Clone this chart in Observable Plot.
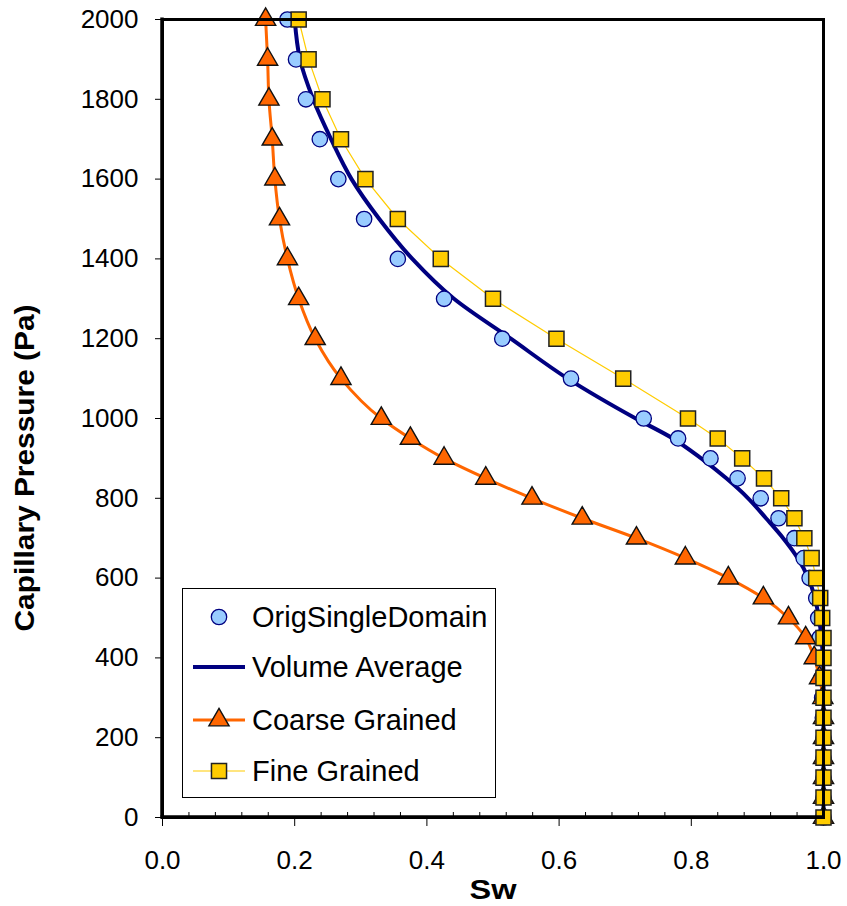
<!DOCTYPE html>
<html>
<head>
<meta charset="utf-8">
<script src="https://cdn.jsdelivr.net/npm/d3@7"></script>
<script src="https://cdn.jsdelivr.net/npm/@observablehq/plot@0.6"></script>
<style>
  html, body { margin: 0; padding: 0; background: #fff; }
  #chart { width: 847px; height: 906px; }
</style>
</head>
<body>
<div id="chart"></div>
<script>
// Capillary pressure levels (Pa)
const pressure = [2000, 1900, 1800, 1700, 1600, 1500, 1400, 1300, 1200, 1100, 1000,
  950, 900, 850, 800, 750, 700, 650, 600, 550, 500, 450, 400, 350, 300, 250, 200, 150, 100, 50, 0];

// Water saturation per series
const swOrigSingleDomain = [0.189, 0.202, 0.217, 0.238, 0.266, 0.305, 0.356, 0.426, 0.514, 0.618, 0.728,
  0.780, 0.829, 0.870, 0.905, 0.932, 0.956, 0.970, 0.979, 0.989, 0.992, 0.994, 0.996, 0.997, 0.998, 0.999, 1.0, 1.0, 1.0, 1.0, 1.0];
const swVolumeAverage = [0.200, 0.208, 0.228, 0.255, 0.286, 0.328, 0.378, 0.441, 0.527, 0.613, 0.716,
  0.772, 0.815, 0.853, 0.886, 0.913, 0.939, 0.961, 0.977, 0.987, 0.993, 0.997, 0.999, 1.0, 1.0, 1.0, 1.0, 1.0, 1.0, 1.0, 1.0];
const swCoarseGrained = [0.156, 0.159, 0.161, 0.166, 0.170, 0.177, 0.189, 0.206, 0.231, 0.270, 0.331,
  0.375, 0.426, 0.489, 0.559, 0.635, 0.717, 0.791, 0.856, 0.909, 0.947, 0.973, 0.986, 0.994, 0.999, 1.0, 1.0, 1.0, 1.0, 1.0, 1.0];
const swFineGrained = [0.206, 0.221, 0.242, 0.270, 0.307, 0.356, 0.421, 0.500, 0.596, 0.697, 0.795,
  0.840, 0.877, 0.910, 0.936, 0.956, 0.971, 0.982, 0.989, 0.995, 0.998, 1.0, 1.0, 1.0, 1.0, 1.0, 1.0, 1.0, 1.0, 1.0, 1.0];

// Tick values
const xTicks = [0.0, 0.2, 0.4, 0.6, 0.8, 1.0];
const xMinorTicks = [0.04, 0.08, 0.12, 0.16, 0.24, 0.28, 0.32, 0.36, 0.44, 0.48, 0.52, 0.56, 0.64, 0.68, 0.72, 0.76, 0.84, 0.88, 0.92, 0.96];
const yTicks = [0, 200, 400, 600, 800, 1000, 1200, 1400, 1600, 1800, 2000];

const seriesNames = ["OrigSingleDomain", "Volume Average", "Coarse Grained", "Fine Grained"];
const colors = {
  origFill: "#99CCFF", origStroke: "#000080",
  vol: "#000080",
  coarse: "#FF6600",
  fine: "#FFCC00"
};

const rCircle = 7.7, rTri = 7.5, rSq = 8.5;

const toRows = sw => pressure.map((p, i) => ({p, sw: sw[i]}));
const orig = toRows(swOrigSingleDomain);
const vol = toRows(swVolumeAverage).reverse();
const coarse = toRows(swCoarseGrained);
const coarseLine = toRows(swCoarseGrained).reverse();
const fine = toRows(swFineGrained);

const W = 847, H = 906;
const mL = 162, mR = 24, mT = 19, mB = 89;
const plotH = H - mT - mB;

const svg = Plot.plot({
  width: W,
  height: H,
  marginLeft: mL,
  marginRight: mR,
  marginTop: mT,
  marginBottom: mB,
  style: {fontFamily: "'Liberation Sans', Arial, sans-serif", fontSize: "26px", color: "black", background: "white"},
  x: {domain: [0, 1], label: null},
  y: {domain: [0, 2000], label: null},
  marks: [
    Plot.axisX({ticks: xTicks, tickSize: 9, tickPadding: 24, tickFormat: d3.format(".1f"), label: null}),
    Plot.tickX(xMinorTicks, {x: d => d, insetTop: plotH - 5, stroke: "black"}),
    Plot.axisY({ticks: yTicks, tickSize: 7, tickPadding: 17, tickFormat: d => String(d), label: null}),
    Plot.line(vol, {x: "sw", y: "p", stroke: colors.vol, strokeWidth: 4, curve: "monotone-y"}),
    Plot.dot(orig, {x: "sw", y: "p", r: rCircle, fill: colors.origFill, stroke: colors.origStroke, strokeWidth: 1.3}),
    Plot.line(coarseLine, {x: "sw", y: "p", stroke: colors.coarse, strokeWidth: 3, curve: "monotone-y"}),
    Plot.dot(coarse, {x: "sw", y: "p", symbol: "triangle", r: rTri, fill: colors.coarse, stroke: "#111", strokeWidth: 1.4}),
    Plot.line(fine, {x: "sw", y: "p", stroke: colors.fine, strokeWidth: 1.2}),
    Plot.dot(fine, {x: "sw", y: "p", symbol: "square", r: rSq, fill: colors.fine, stroke: "#222", strokeWidth: 1.5}),
    Plot.frame({stroke: "black", strokeWidth: 3})
  ]
});

document.getElementById("chart").appendChild(svg);

const s = d3.select(svg);
const font = "'Liberation Sans', Arial, sans-serif";

// Heavier left/bottom axis lines (layout styling)
s.append("line").attr("x1", mL).attr("x2", mL).attr("y1", mT - 1.5).attr("y2", H - mB + 1.5)
  .attr("stroke", "black").attr("stroke-width", 3.5);
s.append("line").attr("x1", mL - 1.5).attr("x2", W - mR + 1.5).attr("y1", H - mB).attr("y2", H - mB)
  .attr("stroke", "black").attr("stroke-width", 3.5);

// Axis titles
s.append("text")
  .attr("transform", "translate(34,468) rotate(-90)")
  .attr("text-anchor", "middle")
  .attr("font-family", font)
  .attr("font-weight", "bold")
  .attr("font-size", 28)
  .attr("textLength", 327)
  .attr("lengthAdjust", "spacingAndGlyphs")
  .attr("fill", "black")
  .text("Capillary Pressure (Pa)");

s.append("text")
  .attr("x", 493).attr("y", 899)
  .attr("text-anchor", "middle")
  .attr("font-family", font)
  .attr("font-weight", "bold")
  .attr("font-size", 28)
  .attr("textLength", 47)
  .attr("lengthAdjust", "spacingAndGlyphs")
  .attr("fill", "black")
  .text("Sw");

// Legend
const lg = s.append("g");
lg.append("rect").attr("x", 182.5).attr("y", 588.5).attr("width", 313).attr("height", 209)
  .attr("fill", "white").attr("stroke", "black").attr("stroke-width", 1);
const rowY = [617, 667, 720, 771];
const textX = 252;
rowY.forEach((y, i) => {
  lg.append("text").attr("x", textX).attr("y", y + 9.5)
    .attr("text-anchor", "start")
    .attr("font-family", font).attr("font-size", 29).attr("fill", "black")
    .text(seriesNames[i]);
});
// Orig: circle
lg.append("circle").attr("cx", 219).attr("cy", rowY[0]).attr("r", rCircle)
  .attr("fill", colors.origFill).attr("stroke", colors.origStroke).attr("stroke-width", 1.3);
// Volume: line
lg.append("line").attr("x1", 193).attr("x2", 245).attr("y1", rowY[1]).attr("y2", rowY[1])
  .attr("stroke", colors.vol).attr("stroke-width", 4);
// Coarse: line + triangle
lg.append("line").attr("x1", 193).attr("x2", 245).attr("y1", rowY[2]).attr("y2", rowY[2])
  .attr("stroke", colors.coarse).attr("stroke-width", 3);
lg.append("path").attr("transform", `translate(219,${rowY[2]})`)
  .attr("d", d3.symbol(d3.symbolTriangle, Math.PI * rTri * rTri)())
  .attr("fill", colors.coarse).attr("stroke", "#111").attr("stroke-width", 1.4);
// Fine: line + square
lg.append("line").attr("x1", 193).attr("x2", 245).attr("y1", rowY[3]).attr("y2", rowY[3])
  .attr("stroke", colors.fine).attr("stroke-width", 1.2);
lg.append("path").attr("transform", `translate(219,${rowY[3]})`)
  .attr("d", d3.symbol(d3.symbolSquare, Math.PI * rSq * rSq)())
  .attr("fill", colors.fine).attr("stroke", "#222").attr("stroke-width", 1.5);
</script>
</body>
</html>
